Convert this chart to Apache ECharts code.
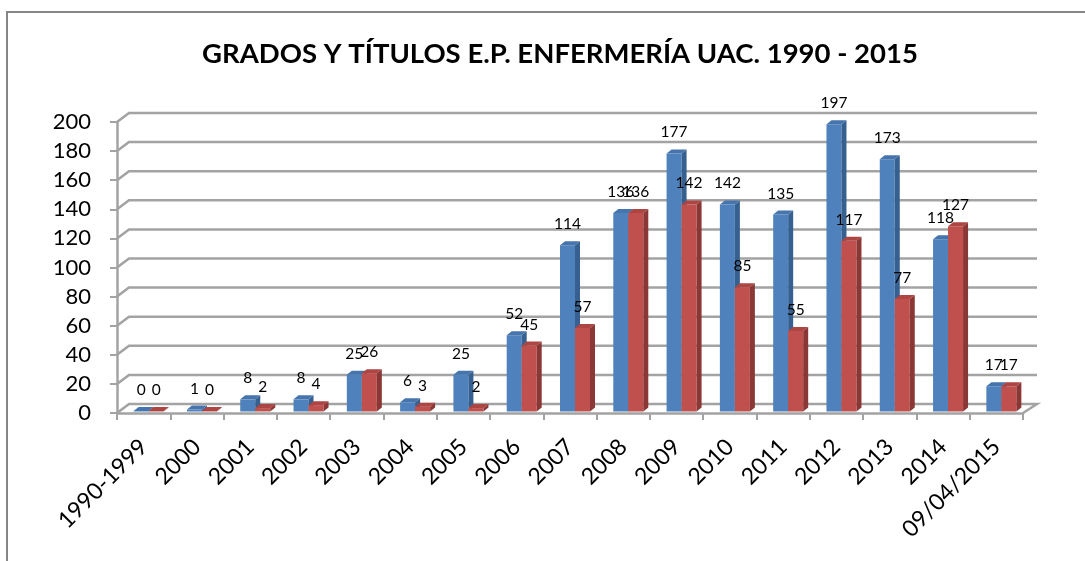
<!DOCTYPE html>
<html><head><meta charset="utf-8">
<script src="https://cdn.jsdelivr.net/npm/echarts@6/dist/echarts.min.js"></script>
<style>html,body{margin:0;padding:0;background:#fff}#c{width:1085px;height:561px}</style>
</head><body><div id="c"></div>
<script>
const categories = ['1990-1999','2000','2001','2002','2003','2004','2005','2006','2007','2008','2009','2010','2011','2012','2013','2014','09/04/2015'];
const grados = [0,1,8,8,25,6,25,52,114,136,177,142,135,197,173,118,17];
const titulos = [0,0,2,4,26,3,2,45,57,136,142,85,55,117,77,127,17];
const yTicks = [0,20,40,60,80,100,120,140,160,180,200];
const titleText = 'GRADOS Y TÍTULOS E.P. ENFERMERÍA UAC. 1990 - 2015';

const DX = 12, DY = -9;   // back-wall depth
const BW = 15, BDX = 5, BDY = -4;

function barRenderer(off, front, side, top) {
  return function (params, api) {
    const i = api.value(0), v = api.value(1);
    const p = api.coord([i, v]);
    const b = api.coord([i, 0]);
    const x0 = p[0] + off, x1 = x0 + BW;
    const yb = b[1] - 1.5;
    const yt = Math.min(p[1] - 2, yb - 0.5);
    return {
      type: 'group',
      children: [
        { type: 'rect', shape: { x: x0, y: yt, width: BW, height: yb - yt }, style: { fill: front } },
        { type: 'polygon', shape: { points: [[x1, yb], [x1 + BDX, yb + BDY], [x1 + BDX, yt + BDY], [x1, yt]] }, style: { fill: side } },
        { type: 'polygon', shape: { points: [[x0, yt], [x0 + BDX, yt + BDY], [x1 + BDX, yt + BDY], [x1, yt]] }, style: { fill: top } },
        { type: 'text', z2: 100, style: { text: String(v), x: (x0 + x1) / 2, y: p[1] - 23, align: 'center', verticalAlign: 'middle', fontSize: 15.5, fontFamily: 'Lato', fill: '#000' } }
      ]
    };
  };
}

function gridRenderer(params, api) {
  const v = api.value(1);
  const y = api.coord([0, v])[1];
  const cs = params.coordSys;
  const pts = [[cs.x, y], [cs.x + DX, y + DY], [cs.x + cs.width + DX + 2, y + DY]];
  if (v === 0) pts.push([cs.x + cs.width, y]);
  return { type: 'polyline', shape: { points: pts }, style: { stroke: '#a3a3a3', lineWidth: 2.5, fill: null } };
}

const chart = echarts.init(document.getElementById('c'), null, { renderer: 'canvas' });
chart.setOption({
  animation: false,
  backgroundColor: '#fff',
  title: {
    text: titleText, left: 555, top: 35, textAlign: 'center',
    textStyle: { fontFamily: 'Lato', fontWeight: 'bold', fontSize: 27.5, color: '#000' }
  },
  graphic: [{
    type: 'rect', shape: { x: 7, y: 12, width: 1100, height: 600 },
    style: { fill: null, stroke: '#868686', lineWidth: 2 }, silent: true
  }],
  grid: { left: 117, right: 62, top: 122, bottom: 148 },
  xAxis: {
    type: 'category', data: categories,
    axisLine: { lineStyle: { color: '#a3a3a3', width: 2.5 } },
    axisTick: { show: true, length: 7, lineStyle: { color: '#a3a3a3', width: 2 } },
    axisLabel: { interval: 0, rotate: 45, margin: 30, fontSize: 23, fontFamily: 'Lato', color: '#000' }
  },
  yAxis: {
    type: 'value', min: 0, max: 200, interval: 20,
    axisLine: { show: true, lineStyle: { color: '#a3a3a3', width: 2.5 } },
    axisTick: { show: true, length: 7, lineStyle: { color: '#a3a3a3', width: 2 } },
    splitLine: { show: false },
    axisLabel: { margin: 26, fontSize: 22, fontFamily: 'Lato', color: '#000' }
  },
  series: [
    { type: 'custom', name: 'grid', z: 1, silent: true, data: yTicks.map(v => [0, v]), renderItem: gridRenderer },
    { type: 'custom', name: 'Grados', z: 2, data: grados.map((v, i) => [i, v]), renderItem: barRenderer(-10, '#4F81BD', '#36608f', '#4675ad') },
    { type: 'custom', name: 'Títulos', z: 2, data: titulos.map((v, i) => [i, v]), renderItem: barRenderer(5, '#C0504D', '#8a3735', '#ad4542') }
  ]
});
</script>
</body></html>
